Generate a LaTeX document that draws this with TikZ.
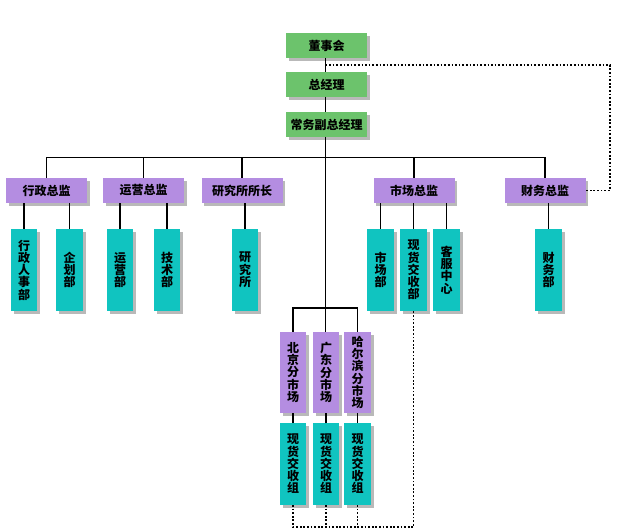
\documentclass[tikz,border=0pt]{standalone}
\usepackage{fontspec}
\newfontfamily\cjk{Noto Sans CJK SC}
\usetikzlibrary{shadows,calc}
\definecolor{gbox}{RGB}{108,195,108}
\definecolor{pbox}{RGB}{180,141,225}
\definecolor{tbox}{RGB}{16,196,192}
\tikzset{
  bx/.style={inner sep=0pt, outer sep=0pt, font=\cjk\bfseries\fontsize{9}{9.2}\selectfont, align=center,
    drop shadow={shadow xshift=2.2pt, shadow yshift=-2.2pt, fill=black!55}},
  hb/.style={bx, minimum width=60.75pt, minimum height=18.75pt},
  vb/.style={bx, minimum width=20pt, minimum height=61.5pt},
  green/.style={hb, fill=gbox},
  purp/.style={hb, fill=pbox},
  purpv/.style={vb, fill=pbox, minimum height=60.75pt},
  teal/.style={vb, fill=tbox},
  link/.style={draw=black, line width=1.3pt},
  dotl/.style={draw=black, line width=1.3pt, dash pattern=on 1.3pt off 1.4pt}
}
\begin{document}
\begin{tikzpicture}[x=0.75pt,y=-0.75pt]
\useasboundingbox (0,0) rectangle (620,530);
\coordinate (bus) at (325.5,157.5);
\coordinate (bus2) at (325.5,308);
% nodes
\node[green] (dsh) at (326.5,45.5) {董事会};
\node[green] (zjl) at (326.5,84.5) {总经理};
\node[green] (cw) at (326.5,124.5) {常务副总经理};

\node[purp] (xz) at (46.5,190.5) {行政总监};
\node[purp] (yy) at (143.5,190.5) {运营总监};
\node[purp] (yj) at (242,190.5) {研究所所长};
\node[purp] (sc) at (414,190.5) {市场总监};
\node[purp] (cz) at (545,190.5) {财务总监};

\node[teal] (xzrs) at (24,270) {行\\政\\人\\事\\部};
\node[teal] (qh) at (69.5,270) {企\\划\\部};
\node[teal] (yyb) at (120,270) {运\\营\\部};
\node[teal] (js) at (167,270) {技\\术\\部};
\node[teal] (yjs) at (245,270) {研\\究\\所};
\node[teal] (scb) at (380.5,270) {市\\场\\部};
\node[teal] (xhb) at (413.5,270) {现\\货\\交\\收\\部};
\node[teal] (kf) at (446.5,270) {客\\服\\中\\心};
\node[teal] (cwb) at (548.5,270) {财\\务\\部};

\node[purpv] (bj) at (293,372.5) {北\\京\\分\\市\\场};
\node[purpv] (gd) at (326,372.5) {广\\东\\分\\市\\场};
\node[purpv] (heb) at (357.5,372.5) {哈\\尔\\滨\\分\\市\\场};

\node[teal] (g1) at (293,464) {现\\货\\交\\收\\组};
\node[teal] (g2) at (326,464) {现\\货\\交\\收\\组};
\node[teal] (g3) at (357.5,464) {现\\货\\交\\收\\组};

% solid links
\path[link] (dsh.south -| bus) -- (zjl.north -| bus);
\path[link] (zjl.south -| bus) -- (cw.north -| bus);
\path[link] (cw.south -| bus) -- (bus2);
\path[link] (xz.north) |- (bus);
\path[link] (yy.north) |- (bus);
\path[link] (yj.north) |- (bus);
\path[link] (sc.north) |- (bus);
\path[link] (cz.north) |- (bus);
\path[link] (bj.north) |- (bus2);
\path[link] (heb.north) |- (bus2);
\path[link] (gd.north -| bus2) -- (bus2);
\foreach \p/\c in {xz/xzrs, xz/qh, yy/yyb, yy/js, yj/yjs, sc/scb, sc/xhb, sc/kf, cz/cwb, bj/g1, gd/g2, heb/g3}
  \path[link] (\c.north) -- (\c.north |- \p.south);
% dotted links
\path[dotl] ($(dsh.south -| bus)!0.5!(zjl.north -| bus)$) -- ++(284.5,0) |- (cz.east);
\path[dotl] (g1.south) -- ++(0,22) -| (xhb.south);
\path[dotl] (g2.south) -- ++(0,22);
\path[dotl] (g3.south) -- ++(0,22);
\end{tikzpicture}
\end{document}
